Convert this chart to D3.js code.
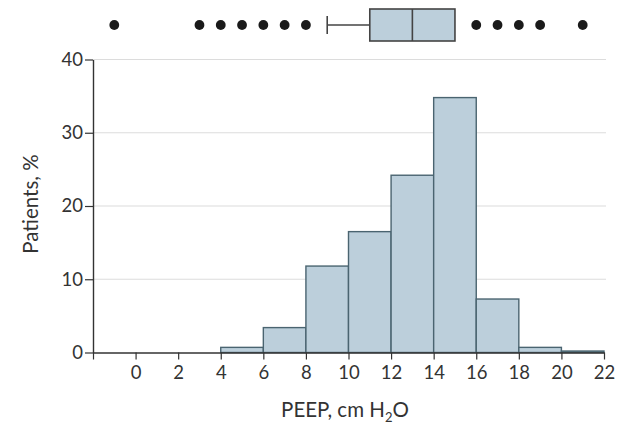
<!DOCTYPE html>
<html>
<head>
<meta charset="utf-8">
<script src="https://cdn.jsdelivr.net/npm/d3@7"></script>
<style>
  body { margin: 0; background: #fff; }
  text { font-family: Lato, "Open Sans", sans-serif; fill: #333; }
</style>
</head>
<body>
<svg id="chart" width="619" height="426"></svg>
<script>
// Histogram bins (PEEP, cm H2O) and percent of patients
const binStarts = [4, 6, 8, 10, 12, 14, 16, 18, 20];
const binWidth = 2;
const percents = [0.7, 3.4, 11.8, 16.5, 24.2, 34.8, 7.3, 0.7, 0.2];

// Box plot summary
const boxStats = { whiskerLow: 9, q1: 11, median: 13, q3: 15, whiskerHigh: 15 };
const outliers = [-1, 3, 4, 5, 6, 7, 8, 16, 17, 18, 19, 21];

// Ticks
const xTicks = [-2, 0, 2, 4, 6, 8, 10, 12, 14, 16, 18, 20, 22];
const yTicks = [0, 10, 20, 30, 40];

const svg = d3.select("#chart");
const x = d3.scaleLinear().domain([-2, 22]).range([93, 604]);
const y = d3.scaleLinear().domain([0, 40]).range([352.5, 59.5]);

// Gridlines
svg.append("g").selectAll("line").data(yTicks.filter(d => d > 0)).join("line")
  .attr("x1", x(-2)).attr("x2", 606)
  .attr("y1", d => y(d)).attr("y2", d => y(d))
  .attr("stroke", "#dcdcdc").attr("stroke-width", 1.2);

// Bars
svg.append("g").selectAll("rect").data(binStarts).join("rect")
  .attr("x", d => x(d))
  .attr("width", x(binWidth) - x(0))
  .attr("y", (d, i) => y(percents[i]))
  .attr("height", (d, i) => y(0) - y(percents[i]))
  .attr("fill", "#bccfdb")
  .attr("stroke", "#4a6470")
  .attr("stroke-width", 1.4);

// Axes
const xAxis = d3.axisBottom(x).tickValues(xTicks)
  .tickFormat(d => d < 0 ? "" : d).tickSize(7).tickSizeOuter(0).tickPadding(6);
const gx = svg.append("g").attr("transform", `translate(0,${y(0)})`).call(xAxis);
gx.select(".domain").attr("stroke", "#333").attr("stroke-width", 1.4);
gx.selectAll(".tick line").attr("stroke", "#333").attr("stroke-width", 1.2);
gx.selectAll("text").style("font-size", "18.5px").attr("fill", "#333");

const yAxis = d3.axisLeft(y).tickValues(yTicks).tickSize(8).tickSizeOuter(0).tickPadding(2);
const gy = svg.append("g").attr("transform", `translate(${x(-2)},0)`).call(yAxis);
gy.select(".domain").attr("stroke", "#333").attr("stroke-width", 1.4);
gy.selectAll(".tick line").attr("stroke", "#333").attr("stroke-width", 1.2);
gy.selectAll("text").style("font-size", "18.5px").attr("fill", "#333");

// Axis titles
svg.append("text")
  .attr("transform", `translate(38,204) rotate(-90)`)
  .attr("text-anchor", "middle")
  .style("font-size", "20.5px")
  .text("Patients, %");

const xt = svg.append("text")
  .attr("x", 345).attr("y", 417)
  .attr("text-anchor", "middle")
  .style("font-size", "20.5px");
xt.append("tspan").text("PEEP, cm H");
xt.append("tspan").attr("dy", 5).style("font-size", "13px").text("2");
xt.append("tspan").attr("dy", -5).text("O");

// Box plot
const by = 25, bh = 32;
const bp = svg.append("g");
bp.append("line")
  .attr("x1", x(boxStats.whiskerLow)).attr("x2", x(boxStats.q1))
  .attr("y1", by).attr("y2", by)
  .attr("stroke", "#444").attr("stroke-width", 1.4);
bp.append("line")
  .attr("x1", x(boxStats.whiskerLow)).attr("x2", x(boxStats.whiskerLow))
  .attr("y1", by - 9).attr("y2", by + 9)
  .attr("stroke", "#444").attr("stroke-width", 1.6);
bp.append("line")
  .attr("x1", x(boxStats.q3)).attr("x2", x(boxStats.whiskerHigh))
  .attr("y1", by).attr("y2", by)
  .attr("stroke", "#444").attr("stroke-width", 1.4);
bp.append("rect")
  .attr("x", x(boxStats.q1)).attr("width", x(boxStats.q3) - x(boxStats.q1))
  .attr("y", by - bh / 2).attr("height", bh)
  .attr("fill", "#bccfdb").attr("stroke", "#444").attr("stroke-width", 1.6);
bp.append("line")
  .attr("x1", x(boxStats.median)).attr("x2", x(boxStats.median))
  .attr("y1", by - bh / 2).attr("y2", by + bh / 2)
  .attr("stroke", "#444").attr("stroke-width", 1.6);
bp.selectAll("circle").data(outliers).join("circle")
  .attr("cx", d => x(d)).attr("cy", by).attr("r", 4.9)
  .attr("fill", "#1a1a1a");
</script>
</body>
</html>
